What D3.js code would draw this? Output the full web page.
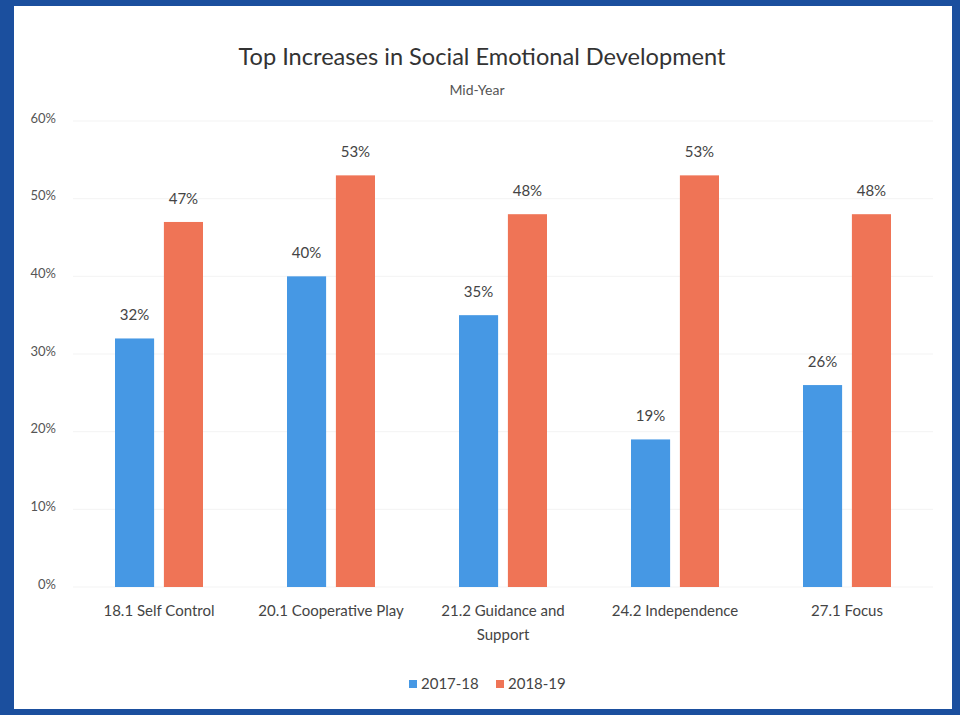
<!DOCTYPE html>
<html>
<head>
<meta charset="utf-8">
<script src="https://cdn.jsdelivr.net/npm/d3@7"></script>
<style>
  html, body { margin: 0; padding: 0; background: #1b4f9e; }
  svg { display: block; font-family: Lato, "Open Sans", sans-serif; }
</style>
</head>
<body>
<svg width="960" height="715"></svg>
<script>
// chart values
var categories = ["18.1 Self Control", "20.1 Cooperative Play", "21.2 Guidance and Support", "24.2 Independence", "27.1 Focus"];
var seriesNames = ["2017-18", "2018-19"];
var values1718 = [32, 40, 35, 19, 26];
var values1819 = [47, 53, 48, 53, 48];
var yTicks = [0, 10, 20, 30, 40, 50, 60];

var colors = ["#4698e4", "#ef7456"];
var textColor = "#444";

var svg = d3.select("svg");

// white chart panel inside the blue frame
svg.append("rect")
	.attr("x", 14)
	.attr("y", 6)
	.attr("width", 938)
	.attr("height", 703)
	.attr("fill", "#fff");

var rows = categories.map(function(c, i){
	return {cat: c, vals: [values1718[i], values1819[i]]};
});

var xScale = d3.scaleBand()
	.domain(categories)
	.range([73, 933]);

var xInner = d3.scaleBand()
	.domain(seriesNames)
	.range([42, 130])
	.paddingInner(0.2);

var yScale = d3.scaleLinear()
	.domain([0, 60])
	.range([587, 121]);

// gridlines
svg.append("g")
	.selectAll("line")
	.data(yTicks)
	.enter().append("line")
	.attr("x1", 73)
	.attr("x2", 933)
	.attr("y1", function(d){ return yScale(d); })
	.attr("y2", function(d){ return yScale(d); })
	.attr("stroke", "#f3f3f3");

// y axis labels, no line
var yAxis = d3.axisLeft(yScale)
	.tickValues(yTicks)
	.tickSize(0)
	.tickPadding(0)
	.tickFormat(function(d){ return d + "%"; });

var yG = svg.append("g")
	.attr("transform", "translate(56, -3)")
	.call(yAxis);
yG.select(".domain").remove();
yG.selectAll("text")
	.attr("fill", "#555")
	.style("font-size", "13px")
	.style("font-family", "Lato, sans-serif");

// bars
var groups = svg.append("g")
	.selectAll("g")
	.data(rows)
	.enter().append("g")
	.attr("transform", function(d){ return "translate(" + xScale(d.cat) + ",0)"; });

groups.selectAll("rect")
	.data(function(d){ return d.vals.map(function(v, j){ return {s: seriesNames[j], v: v, j: j}; }); })
	.enter().append("rect")
	.attr("x", function(d){ return xInner(d.s); })
	.attr("width", xInner.bandwidth())
	.attr("y", function(d){ return yScale(d.v); })
	.attr("height", function(d){ return yScale(0) - yScale(d.v); })
	.attr("fill", function(d){ return colors[d.j]; });

// value labels
groups.selectAll("text")
	.data(function(d){ return d.vals.map(function(v, j){ return {s: seriesNames[j], v: v}; }); })
	.enter().append("text")
	.attr("x", function(d){ return xInner(d.s) + xInner.bandwidth() / 2; })
	.attr("y", function(d){ return yScale(d.v) - 18; })
	.attr("text-anchor", "middle")
	.attr("fill", textColor)
	.style("font-size", "15px")
	.text(function(d){ return d.v + "%"; });

// x axis category labels, wrapped like the original
var xAxis = d3.axisBottom(xScale)
	.tickSize(0)
	.tickPadding(0);

var xG = svg.append("g")
	.attr("transform", "translate(0, 605)")
	.call(xAxis);
xG.select(".domain").remove();
xG.selectAll("text")
	.attr("fill", textColor)
	.style("font-size", "15px")
	.style("font-family", "Lato, sans-serif")
	.each(function(d){
		var t = d3.select(this);
		if (d.length > 22) {
			var words = d.split(" ");
			t.text(null);
			t.append("tspan").attr("x", 0).attr("dy", "0.71em").text(words.slice(0, 3).join(" "));
			t.append("tspan").attr("x", 0).attr("dy", "1.6em").text(words.slice(3).join(" "));
			t.attr("dy", null);
		}
	});

// title
svg.append("text")
	.attr("x", 482)
	.attr("y", 65)
	.attr("text-anchor", "middle")
	.attr("fill", "#333")
	.style("font-size", "23.6px")
	.text("Top Increases in Social Emotional Development");

svg.append("text")
	.attr("x", 477)
	.attr("y", 95)
	.attr("text-anchor", "middle")
	.attr("fill", "#555")
	.style("font-size", "14px")
	.text("Mid-Year");

// legend
var legendX = [409, 496];
var legend = svg.append("g")
	.selectAll("g")
	.data(seriesNames)
	.enter().append("g")
	.attr("transform", function(d, i){ return "translate(" + legendX[i] + ",684)"; });

legend.append("rect")
	.attr("x", 0)
	.attr("y", -4)
	.attr("width", 8)
	.attr("height", 8)
	.attr("fill", function(d, i){ return colors[i]; });

legend.append("text")
	.attr("x", 12)
	.attr("dy", "0.35em")
	.attr("fill", textColor)
	.style("font-size", "15px")
	.text(function(d){ return d; });
</script>
</body>
</html>
